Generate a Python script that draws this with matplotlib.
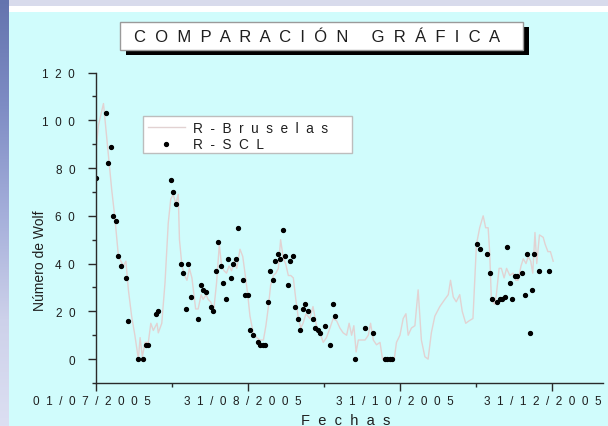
import numpy as np
import matplotlib
matplotlib.use("Agg")
import matplotlib.pyplot as plt
from matplotlib.patches import Rectangle
from matplotlib.colors import LinearSegmentedColormap
from matplotlib.transforms import ScaledTranslation

# ---------------- data (x = days since 01/07/2005) ----------------
brus_day = [0, 1, 3, 5, 6.3, 7.6, 9, 11, 12, 13, 14.3, 15.6, 17, 17.7, 18.6, 19.7, 21, 22, 23,
            24.5, 25, 26.4, 27.7, 29, 30, 31, 32, 33, 33.5, 34.5, 35.6, 36.5, 37.5, 38.5, 40, 41,
            42.2, 43, 44.2, 45, 46, 47.3, 48.4, 49.5, 50.4, 51.4, 52.4, 53.4, 54.4, 55.5, 56.5,
            57.8, 58.9, 59.8, 60.9, 61.8, 63.1, 64.5, 65.8, 67.2, 68.2, 69.2, 70.1, 71.2, 72.2,
            73.2, 74.1, 75.2, 76.1, 77.2, 78.2, 79.2, 80.2, 81.1, 82.2, 83.1, 84.3, 85.8, 87.1,
            88.5, 89.9, 91.2, 92.5, 93.9, 95.2, 96.6, 97.9, 99.2, 100.6, 101.6, 102.6, 103.5,
            104.4, 105.3, 106.6, 108, 109.3, 110.2, 111.3, 112.6, 114, 115, 119.7, 120.6, 122,
            123.3, 124.4, 125.3, 126.6, 128, 129.3, 130.6, 132, 133.3, 134.6, 136, 138, 140,
            141.4, 142.3, 143.4, 144.6, 146, 147, 148.4, 149.7, 151.3, 152.7, 154, 155.4, 156.4,
            157.4, 158, 158.7, 160, 160.7, 161.8, 162.7, 163.8, 164.8, 166.1, 167.4, 168.5,
            169.4, 170.6, 171.5, 172.6, 173.5, 174.5, 175.3, 176.2, 176.9, 178, 179.5, 180.3,
            181.4, 182.4, 183.5]
brus_val = [88, 98, 107, 85, 71, 59, 43, 39, 41, 29, 18, 10, 0, 9, 1, 7, 7, 15, 12,
            15, 11, 15, 32, 57, 67, 69, 65, 69, 50, 39, 35, 33, 38, 34, 21, 21,
            27, 25, 27, 25, 24, 21, 32, 48, 39, 37, 36, 39, 37, 41, 38,
            46, 43, 36, 27, 18, 11, 9, 8, 8, 14, 22, 31, 35, 36,
            38, 50, 42, 40, 35, 35, 34, 25, 18, 13, 15, 19, 17, 22,
            14, 11, 7, 9, 13, 17, 16, 13, 11, 10, 15, 10, 14,
            3, 8, 8, 8, 10, 15, 8, 6, 7, 0, 0, 7, 10,
            17, 19, 10, 13, 14, 29, 8, 1, 0, 11, 18, 22, 25,
            27, 33, 26, 24, 27, 20, 15, 16, 17, 48, 55, 60, 55,
            55, 45, 25, 23, 27, 38, 38, 34, 38, 35, 36, 33,
            33, 39, 42, 40, 43, 41, 36, 53, 40, 52, 51, 48,
            45, 45, 41]

scl_day = [0, 4, 5, 6, 7, 8, 9, 10, 12, 13, 17, 19, 20, 21, 24, 25, 30, 31, 32, 34, 35, 36,
           37, 38, 41, 42, 43, 44, 46, 47, 48, 49, 50, 51, 52, 53, 54, 55, 56, 57, 59, 60, 61,
           62, 63, 65, 66, 67, 68, 69, 70, 71, 72, 73, 74, 75, 76, 77, 78, 79, 80, 81, 82, 83,
           84, 85, 87, 88, 89, 90, 92, 94, 95, 96, 104, 108, 111, 116, 117, 118, 119,
           153, 154, 157, 158, 159, 161, 162, 163, 164, 165, 166, 167, 168, 169, 171, 172,
           173, 174, 175, 176, 178, 182]
scl_val = [76, 103, 82, 89, 60, 58, 43, 39, 34, 16, 0, 0, 6, 6, 19, 20, 75, 70, 65, 40, 36, 21,
           40, 26, 17, 31, 29, 28, 22, 20, 37, 49, 39, 32, 25, 42, 34, 40, 42, 55, 33, 27, 27,
           12, 10, 7, 6, 6, 6, 24, 37, 33, 41, 44, 42, 54, 43, 31, 41, 43, 22, 17, 12, 21,
           23, 20, 17, 13, 12, 11, 14, 6, 23, 18, 0, 13, 11, 0, 0, 0, 0,
           48, 46, 44, 36, 25, 24, 25, 25, 26, 47, 32, 25, 35, 35, 36, 27,
           44, 11, 29, 44, 37, 37]

xtick_days = [0, 61, 122, 183]
xtick_labels = ["01/07/2005", "31/08/2005", "31/10/2005", "31/12/2005"]
xminor_days = [30.5, 91.5, 152.5]
ytick_vals = [0, 20, 40, 60, 80, 100, 120]
series_names = ["R -Bruselas", "R -SCL"]
title_words = ["COMPARACIÓN", "GRÁFICA"]
xlabel_text = "Fechas"
ylabel_text = "Número de Wolf"

# ---------------- figure ----------------
W, H = 608, 427
plt.rcParams['font.family'] = ['Liberation Sans', 'DejaVu Sans']
BG = '#D0FCFC'
TXT = '#1E1E1E'

fig = plt.figure(figsize=(W / 100, H / 100), dpi=100, facecolor=BG)


def fig_rect(x0, y0, x1, y1):
    return [x0 / W, 1 - y1 / H, (x1 - x0) / W, (y1 - y0) / H]


def spaced(s, gap="  "):
    return gap.join([c for c in s if c != " "])


# top band and white line
fig.add_artist(Rectangle((0, 1 - 7 / H), 1, 7 / H, transform=fig.transFigure,
                         facecolor='#D8DBEC', edgecolor='none', zorder=0))
fig.add_artist(Rectangle((0, 1 - 12.5 / H), 1, 5.5 / H, transform=fig.transFigure,
                         facecolor='white', edgecolor='none', zorder=0))
# left gradient strip
sax = fig.add_axes(fig_rect(0, 0, 9, H))
sax.axis('off')
cmap = LinearSegmentedColormap.from_list('strip', ['#6474AE', '#7E8CC4', '#A4AEDA', '#CDD1EA', '#DCDFF2'])
sax.imshow(np.linspace(0, 1, 256).reshape(-1, 1), aspect='auto', cmap=cmap,
           extent=[0, 1, 0, 1], origin='upper')

# title box with shadow
fig.add_artist(Rectangle((126 / W, 1 - 56 / H), (529 - 126) / W, (56 - 28) / H,
                         transform=fig.transFigure, facecolor='black', edgecolor='none', zorder=2))
fig.add_artist(Rectangle((120 / W, 1 - 51 / H), (523 - 120) / W, (51 - 23) / H,
                         transform=fig.transFigure, facecolor='white', edgecolor='#9A9A9A',
                         lw=1, zorder=3))
title = spaced(title_words[0]) + "     " + spaced(title_words[1])
fig.text(317 / W, 1 - 37.5 / H, title, ha='center', va='center', fontsize=12,
         color=TXT, zorder=4)

# main axes
ax = fig.add_axes(fig_rect(96, 73.5, 603, 384))
ax.set_facecolor('none')


def legend_label(name):
    a, b = name.split("-")
    return spaced(a) + "  -  " + spaced(b)


ax.plot(brus_day, brus_val, color='#E2D2D2', lw=1.0, label=legend_label(series_names[0]))
ax.plot(scl_day, scl_val, 'o', ms=2.8, color='black', label=legend_label(series_names[1]))

ax.set_xlim(0, 203.5)
ax.set_ylim(-10, 120)
for s in ['top', 'right']:
    ax.spines[s].set_visible(False)
for s in ['left', 'bottom']:
    ax.spines[s].set_color('#2A2A2A')
    ax.spines[s].set_linewidth(1.0)

ax.set_xticks(xtick_days)
ax.set_xticklabels([spaced(t) for t in xtick_labels])
ax.set_xticks(xminor_days, minor=True)
ax.set_yticks(ytick_vals)
ax.set_yticklabels([spaced(str(v)) for v in ytick_vals])
ax.set_yticks(np.arange(-10, 120, 20), minor=True)
ax.tick_params(axis='both', which='major', direction='out', length=6, width=1,
               color='#2A2A2A', labelcolor=TXT, labelsize=8.5)
ax.tick_params(axis='both', which='minor', direction='out', length=3, width=1, color='#2A2A2A')
ax.tick_params(axis='x', which='major', pad=3)
ax.tick_params(axis='y', which='major', pad=9)

# shift x tick labels slightly left as in the reference
shifts = [-4, -5, -5, -9]
for lbl, sh in zip(ax.get_xticklabels(), shifts):
    lbl.set_transform(lbl.get_transform() + ScaledTranslation(sh / 100, 0, fig.dpi_scale_trans))

ax.set_xlabel(spaced(xlabel_text), fontsize=10.5, color=TXT)
ax.xaxis.set_label_coords((345.5 - 96) / 507, -(414 - 384) / 310.5)
ax.set_ylabel(ylabel_text, fontsize=10, color=TXT)
ax.yaxis.set_label_coords(-(96 - 47) / 507, (384 - 261) / 310.5)

# legend box (drawn wider than the legend content, as in the reference)
ax.add_artist(Rectangle((143 / W, 1 - 154 / H), (352 - 143) / W, (154 - 117) / H,
                        transform=fig.transFigure, facecolor='white', edgecolor='#BDBDBD',
                        lw=1, zorder=4.5, clip_on=False))
leg = ax.legend(loc='upper left', bbox_to_anchor=(143 / W, 1 - 117 / H),
                bbox_transform=fig.transFigure, borderaxespad=0,
                fontsize=9.8, handlelength=2.7, handletextpad=0.6, borderpad=0.35,
                labelspacing=0.2, numpoints=1, frameon=False)
leg.set_zorder(5)
for t in leg.get_texts():
    t.set_color(TXT)

fig.savefig('out.png', dpi=100, facecolor=BG)
